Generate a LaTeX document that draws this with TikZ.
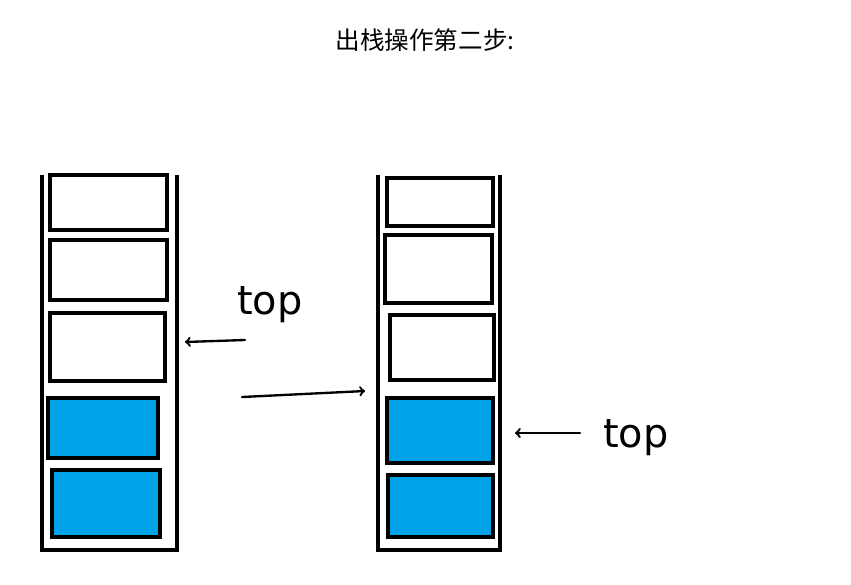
\documentclass[tikz,border=0pt]{standalone}
\usepackage{fontspec}
\newfontfamily\cjk{Noto Sans CJK SC}
\setsansfont{DejaVu Sans}
\usetikzlibrary{arrows}
\definecolor{cellblue}{HTML}{00A2E8}
\begin{document}
\begin{tikzpicture}[x=0.03cm,y=-0.03cm,>=to,
  cell/.style={draw,line width=2.6pt,inner sep=0pt},
  full/.style={cell,fill=cellblue},
  wall/.style={line width=3.4pt},
  hand/.style={->,line width=2pt,line cap=round},
  toplabel/.style={font=\sffamily\fontsize{34}{34}\selectfont,inner sep=0pt}
]
\useasboundingbox (0,0) rectangle (851,584);
\node (title) at (425,40) {\cjk\fontsize{21}{21}\selectfont 出栈操作第二步:};
% left stack
\draw[wall] (42,175) -- (42,550) -- (177,550) -- (177,175);
\node[cell,minimum width=3.51cm,minimum height=1.65cm] (a1) at (108.5,202.5) {};
\node[cell,minimum width=3.51cm,minimum height=1.8cm] (a2) at (108.5,270) {};
\node[cell,minimum width=3.45cm,minimum height=2.04cm] (a3) at (107.5,347) {};
\node[full,minimum width=3.3cm,minimum height=1.8cm] (a4) at (103,428) {};
\node[full,minimum width=3.24cm,minimum height=2.01cm] (a5) at (106,503.5) {};
% right stack
\draw[wall] (378,175) -- (378,550) -- (500,550) -- (500,175);
\node[cell,minimum width=3.18cm,minimum height=1.44cm] (b1) at (440,202) {};
\node[cell,minimum width=3.21cm,minimum height=2.04cm] (b2) at (438.5,269) {};
\node[cell,minimum width=3.12cm,minimum height=1.95cm] (b3) at (442,347.5) {};
\node[full,minimum width=3.18cm,minimum height=1.95cm] (b4) at (440,430.5) {};
\node[full,minimum width=3.15cm,minimum height=1.86cm] (b5) at (440.5,506) {};
% pointers
\node[toplabel] (t1) at (270,305) {top};
\node[toplabel] (t2) at (636,438) {top};
\coordinate (p1) at (245,340);
\coordinate (q1) at (185,342);
\coordinate (p2) at (580,433);
\coordinate (q2) at (515,433);
\draw[hand] (p1) -- (q1);
\draw[hand] (p2) -- (q2);
\coordinate (m1) at (242,397);
\coordinate (m2) at (365,391);
\draw[hand] (m1) -- (m2);
\end{tikzpicture}
\end{document}
